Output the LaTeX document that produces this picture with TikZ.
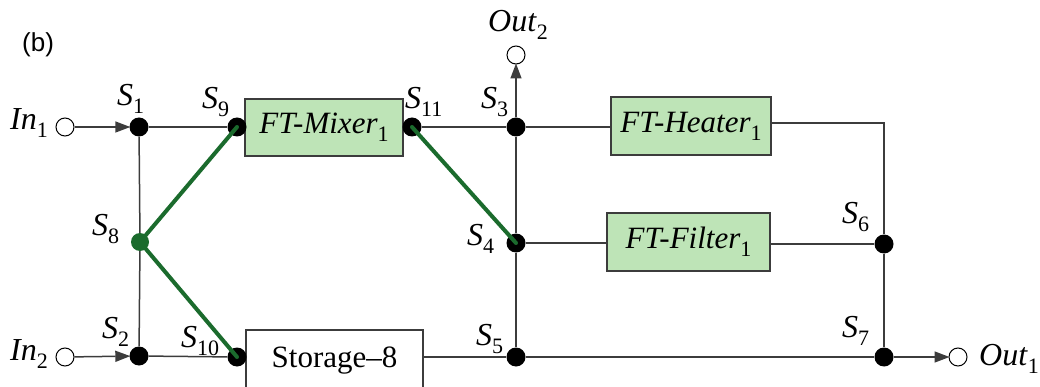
\documentclass[tikz,border=0pt]{standalone}
\usepackage{fontspec}
\setmainfont{Liberation Serif}
\newfontfamily\labsans{Liberation Sans}
\usetikzlibrary{arrows.meta}
\definecolor{gline}{RGB}{27,107,45}
\definecolor{boxfill}{RGB}{190,228,183}
\definecolor{wire}{RGB}{60,60,60}
\newcommand{\sbs}[1]{\raisebox{-8pt}{\fontsize{22}{22}\selectfont #1}}
\newcommand{\Lab}[2]{\textit{#1}\sbs{#2}}
\tikzset{
  dot/.style={circle,fill=black,inner sep=0pt,minimum size=19pt},
  gdot/.style={circle,fill=gline,inner sep=0pt,minimum size=18pt},
  port/.style={circle,draw=black,line width=1pt,fill=white,inner sep=0pt,minimum size=18pt},
  wireline/.style={draw=wire,line width=1.5pt},
  arr/.style={wireline,-{Triangle[length=15pt,width=11pt]},shorten >=-1pt},
  green/.style={draw=gline,line width=4pt,line cap=round},
  unit/.style={draw=wire,line width=1.5pt,fill=boxfill,inner sep=0pt,font=\fontsize{31}{36}\selectfont},
  lab/.style={anchor=base west,inner sep=0pt,font=\fontsize{32}{36}\selectfont},
}
\begin{document}
\begin{tikzpicture}[x=1pt,y=-1pt]
\useasboundingbox (0,0) rectangle (1040,387);
% boxes
\node[unit,minimum width=158pt,minimum height=57pt] (mixer) at (324,127.5) {\Lab{FT-Mixer}{1}};
\node[unit,minimum width=160pt,minimum height=58pt] (heater) at (691,126) {\Lab{FT-Heater}{1}};
\node[unit,minimum width=163pt,minimum height=58pt] (filter) at (688.5,242) {\Lab{FT-Filter}{1}};
\node[unit,fill=white,minimum width=177pt,minimum height=62pt] (storage) at (334.5,361) {Storage–8};
% ports
\node[port] (in1) at (65,127) {};
\node[port] (in2) at (65,357) {};
\node[port] (out2) at (516,55) {};
\node[port] (out1) at (958,357) {};
% junctions
\node[dot] (s1) at (139,127) {};
\node[dot] (s2) at (139,356) {};
\node[gdot] (s8) at (140,242) {};
\node[dot] (s9) at (237,127) {};
\node[dot] (s10) at (237,357) {};
\node[dot] (s11) at (412,127) {};
\node[dot] (s3) at (516,127) {};
\node[dot] (s4) at (516,243) {};
\node[dot] (s5) at (516,357) {};
\node[dot] (s6) at (884,244) {};
\node[dot] (s7) at (884,357) {};
\coordinate (hc) at (884,123);
% wires
\draw[arr] (in1) -- (s1);
\draw[arr] (in2) -- (s2);
\draw[wireline] (s1) -- (s9);
\draw[wireline] (s2) -- (s10);
\draw[wireline] (s1) -- (s8) -- (s2);
\draw[wireline] (s11) -- (s3) -- (s3 -| heater.west);
\draw[wireline] (heater.east |- hc) -- (hc) -- (s6);
\draw[wireline] (s3) -- (s4) -- (s5);
\draw[arr] (s3) -- (out2);
\draw[wireline] (s4) -- (filter.west |- s4);
\draw[wireline] (filter.east |- s6) -- (s6);
\draw[wireline] (s6) -- (s7);
\draw[wireline] (s5 -| storage.east) -- (s5) -- (s7);
\draw[arr] (s7) -- (out1);
% green links
\draw[green] (s8.center) -- (s9.center);
\draw[green] (s8.center) -- (s10.center);
\draw[green] (s11.center) -- (s4.center);
% labels
\node[lab,font=\labsans\fontsize{26}{30}\selectfont] (lb) at (22,52) {(b)};
\node[lab] (lin1) at (10,130) {\Lab{In}{1}};
\node[lab] (lin2) at (10,360) {\Lab{In}{2}};
\node[lab] (lout2) at (488,32) {\Lab{Out}{2}};
\node[lab] (lout1) at (979,365) {\Lab{Out}{1}};
\node[lab] (ls1) at (117,106) {\Lab{S}{1}};
\node[lab] (ls9) at (202,109) {\Lab{S}{9}};
\node[lab] (ls11) at (405,109) {\Lab{S}{11}};
\node[lab] (ls3) at (481,109) {\Lab{S}{3}};
\node[lab] (ls4) at (467,245) {\Lab{S}{4}};
\node[lab] (ls5) at (476,345) {\Lab{S}{5}};
\node[lab] (ls6) at (842,223) {\Lab{S}{6}};
\node[lab] (ls7) at (842,337) {\Lab{S}{7}};
\node[lab] (ls8) at (92,236) {\Lab{S}{8}};
\node[lab] (ls2) at (102,338) {\Lab{S}{2}};
\node[lab] (ls10) at (181,347) {\Lab{S}{10}};
\end{tikzpicture}
\end{document}
